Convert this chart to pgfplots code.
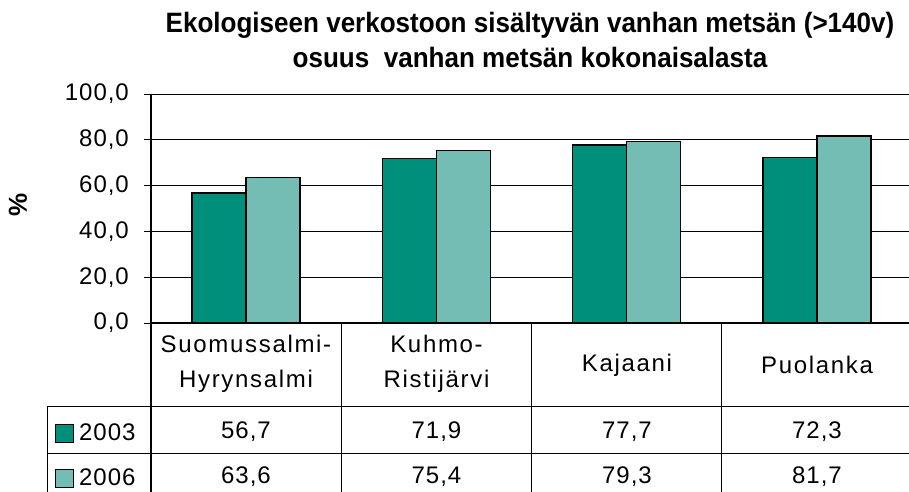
\documentclass[border=0pt]{standalone}
\usepackage{fontspec}
\setmainfont{Liberation Sans}
\newfontfamily\spaced[LetterSpace=4]{Liberation Sans}
\newfontfamily\spacedH[LetterSpace=7]{Liberation Sans}
\newfontfamily\titlefont[FakeStretch=0.93]{Liberation Sans}
\usepackage{pgfplots}
\usepackage{pgfplotstable}
\pgfplotsset{compat=1.18}
\pgfplotstableread{
x y2003 y2006
0 56.7 63.6
1 71.9 75.4
2 77.7 79.3
3 72.3 81.7
}\datatable
\definecolor{tealA}{RGB}{0,143,122}
\definecolor{tealB}{RGB}{115,189,181}
\newcommand{\tf}{\spaced\fontsize{24}{35}\selectfont}
\newcommand{\hf}{\spacedH\fontsize{24}{35}\selectfont}
\begin{document}
\begin{tikzpicture}[x=1pt,y=1pt]
\useasboundingbox (0,0) rectangle (909,-491);
\begin{axis}[
 at={(151pt,-323pt)}, anchor=south west,
 scale only axis, width=761pt, height=229pt,
 xmin=-0.5, xmax=3.5, ymin=0, ymax=100,
 ybar=0pt, bar width=54pt,
 axis x line=bottom, axis y line=left,
 axis line style={-, line width=1.6pt},
 xtick=\empty,
 ytick={0,20,...,100},
 ymajorgrids, grid style={black, line width=1pt},
 tick style={black, line width=1pt}, tick align=outside, major tick length=7pt,
 yticklabel style={font=\tf, anchor=east, inner sep=0pt, xshift=-15pt},
 /pgf/number format/.cd, fixed, fixed zerofill, precision=1, use comma, assume math mode=true,
]
\addplot[fill=tealA, draw=black, line width=1.5pt] table[x=x,y=y2003]{\datatable};
\addplot[fill=tealB, draw=black, line width=1.5pt] table[x=x,y=y2006]{\datatable};
\end{axis}
% data table grid
\draw[line width=1.6pt] (151,-323) -- (151,-495);
\foreach \xx in {341.25,531.5,721.75} \draw[line width=0.9pt] (\xx,-323) -- (\xx,-495);
\draw[line width=0.9pt] (47,-406) -- (915,-406);
\draw[line width=0.9pt] (47,-453) -- (915,-453);
\draw[line width=0.9pt] (47,-406) -- (47,-495);
% header
\node[font=\hf, align=center] at (246,-364) {Suomussalmi-\\Hyrynsalmi};
\node[font=\hf, align=center] at (436.5,-364) {Kuhmo-\\Ristijärvi};
\node[font=\hf, align=center] at (627,-365) {Kajaani};
\node[font=\hf, align=center] at (817,-365) {Puolanka};
% legend column
\draw[fill=tealA, line width=1pt] (55,-424) rectangle (73,-442);
\node[font=\tf, anchor=west, inner sep=0pt] at (79,-432) {2003};
\draw[fill=tealB, line width=1pt] (55,-469) rectangle (73,-487);
\node[font=\tf, anchor=west, inner sep=0pt] at (79,-477) {2006};
% values
\node[font=\tf] at (246,-432) {56,7};
\node[font=\tf] at (436.5,-432) {71,9};
\node[font=\tf] at (627,-432) {77,7};
\node[font=\tf] at (817,-432) {72,3};
\node[font=\tf] at (246,-477) {63,6};
\node[font=\tf] at (436.5,-477) {75,4};
\node[font=\tf] at (627,-477) {79,3};
\node[font=\tf] at (817,-477) {81,7};
% title and y label
\node[font=\titlefont\bfseries\fontsize{28}{35}\selectfont, align=center] at (530,-40) {Ekologiseen verkostoon sisältyvän vanhan metsän (>140v)\\osuus\ \ vanhan metsän kokonaisalasta};
\node[rotate=90, font=\bfseries\fontsize{26}{26}\selectfont] at (18,-205) {\%};
\end{tikzpicture}
\end{document}
